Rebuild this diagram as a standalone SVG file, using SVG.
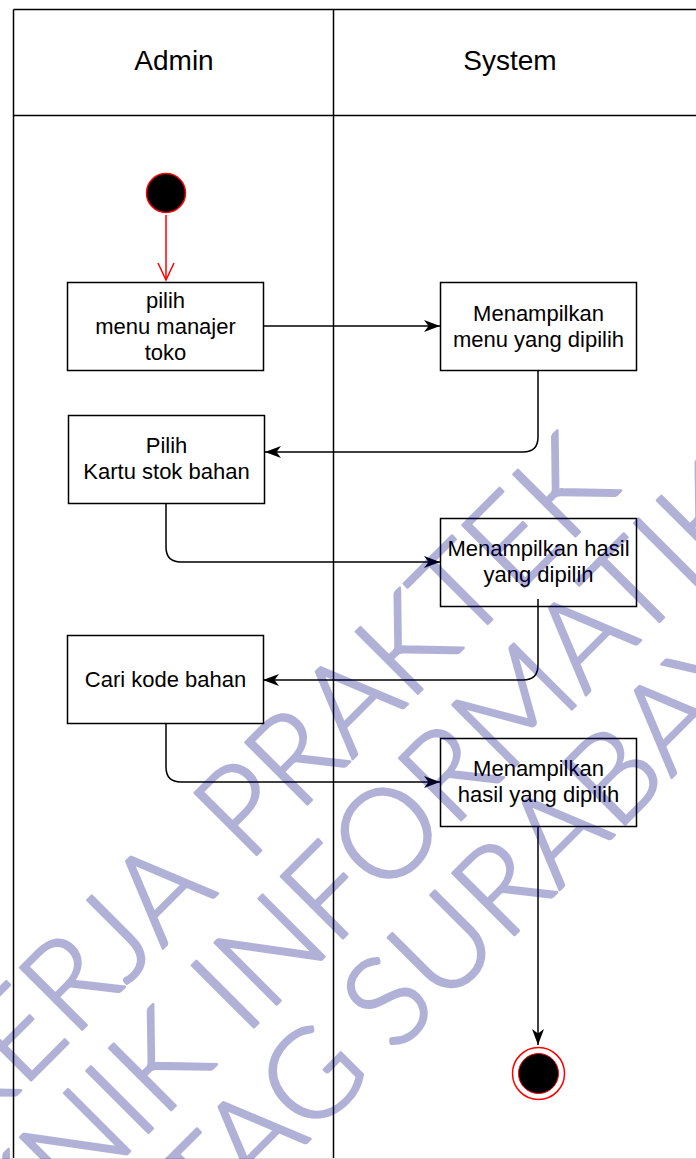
<svg xmlns="http://www.w3.org/2000/svg" width="696" height="1159" viewBox="0 0 696 1159">
  <style>
    .lane { fill: none; stroke: #000; stroke-width: 1.5; }
    .box { fill: #fff; stroke: #000; stroke-width: 1.5; }
    .head { font-family: "Liberation Sans", Arial, sans-serif; font-size: 28px; fill: #000; text-anchor: middle; }
    .lbl { font-family: "Liberation Sans", Arial, sans-serif; font-size: 22px; fill: #000; text-anchor: middle; }
    .edge { fill: none; stroke: #000; stroke-width: 1.5; }
    .wm { font-family: Lato, "Open Sans", "DejaVu Sans", sans-serif; font-weight: 300; font-size: 124px; fill: #000080; stroke: #000080; stroke-width: 2.5; stroke-linejoin: round; }
    .wm-end { text-anchor: end; }
  </style>
  <defs>
    <marker id="arrow" markerUnits="userSpaceOnUse" viewBox="0 0 16 12" markerWidth="16" markerHeight="12" refX="16" refY="6" orient="auto">
      <path d="M0,0 L16,6 L0,12 L4.5,6 Z" fill="#000"/>
    </marker>
    <marker id="open-red" markerUnits="userSpaceOnUse" viewBox="-1 -1 20 20" markerWidth="20" markerHeight="20" refX="17" refY="8" orient="auto" overflow="visible">
      <path d="M0,0 L17,8 L0,16" fill="none" stroke="#ff0000" stroke-width="1.5"/>
    </marker>
  </defs>

  <rect width="696" height="1159" fill="#fff"/>

  <!-- swimlane pool -->
  <g id="pool">
    <path class="lane" d="M13.5,9.5 H696 M13.5,9.5 V1159 M333.5,9.5 V1159 M13.5,115.5 H696"/>
    <line x1="0" y1="1158.5" x2="696" y2="1158.5" stroke="#dcdcdc" stroke-width="1"/>
    <text class="head" x="174" y="70">Admin</text>
    <text class="head" x="510" y="70">System</text>
  </g>

  <!-- start node -->
  <g id="start">
    <circle cx="166" cy="193" r="19.5" fill="#000" stroke="#ff0000" stroke-width="1.5"/>
  </g>

  <!-- Admin lane actions -->
  <g id="pilih-menu">
    <rect class="box" x="67.5" y="282.5" width="196" height="88"/>
    <text class="lbl"><tspan x="165.5" y="308">pilih</tspan><tspan x="165.5" y="334">menu manajer</tspan><tspan x="165.5" y="360">toko</tspan></text>
  </g>
  <g id="pilih-kartu">
    <rect class="box" x="68.5" y="415.5" width="196" height="88"/>
    <text class="lbl"><tspan x="166.5" y="453">Pilih</tspan><tspan x="166.5" y="479">Kartu stok bahan</tspan></text>
  </g>
  <g id="cari-kode">
    <rect class="box" x="67.5" y="635.5" width="196" height="88"/>
    <text class="lbl" x="165.5" y="687">Cari kode bahan</text>
  </g>

  <!-- System lane actions -->
  <g id="tampil-menu">
    <rect class="box" x="440.5" y="282.5" width="196" height="88"/>
    <text class="lbl"><tspan x="538.5" y="321">Menampilkan</tspan><tspan x="538.5" y="347">menu yang dipilih</tspan></text>
  </g>
  <g id="tampil-hasil">
    <rect class="box" x="440.5" y="518.5" width="196" height="88"/>
    <text class="lbl"><tspan x="538.5" y="556">Menampilkan hasil</tspan><tspan x="538.5" y="582">yang dipilih</tspan></text>
  </g>
  <g id="tampil-hasil-akhir">
    <rect class="box" x="440.5" y="738.5" width="196" height="88"/>
    <text class="lbl"><tspan x="538.5" y="776">Menampilkan</tspan><tspan x="538.5" y="802">hasil yang dipilih</tspan></text>
  </g>

  <!-- end node -->
  <g id="end">
    <circle cx="538.5" cy="1073.5" r="26" fill="#fff" stroke="#ff0000" stroke-width="1.5"/>
    <circle cx="538.5" cy="1073.5" r="20" fill="#000" stroke="#ff0000" stroke-width="1"/>
  </g>

  <!-- connectors (drawn over the nodes) -->
  <g id="connectors">
    <path d="M166,215 V280" fill="none" stroke="#ff0000" stroke-width="1.5" marker-end="url(#open-red)"/>
    <path class="edge" d="M263,326 H440" marker-end="url(#arrow)"/>
    <path class="edge" d="M538,370 V437 Q538,452 523,452 H265" marker-end="url(#arrow)"/>
    <path class="edge" d="M166,503 V547 Q166,562 181,562 H440" marker-end="url(#arrow)"/>
    <path class="edge" d="M538,599 V665 Q538,680 523,680 H263" marker-end="url(#arrow)"/>
    <path class="edge" d="M166,723 V767 Q166,782 181,782 H440" marker-end="url(#arrow)"/>
    <path class="edge" d="M538,826 V1045" marker-end="url(#arrow)"/>
  </g>

  <!-- document watermark, translucent over the page -->
  <g id="watermark" transform="rotate(-45)" opacity="0.3">
    <text class="wm wm-end" x="-476" y="786">KERJA</text>
    <text class="wm" x="-436" y="786">PRAKTEK</text>
    <text class="wm wm-end" x="-598" y="906">TEKNIK</text>
    <text class="wm" x="-560" y="906">INFORMATIKA</text>
    <text class="wm wm-end" x="-495" y="1025">UNTAG</text>
    <text class="wm" x="-467" y="1025">SURABAYA</text>
  </g>
</svg>
